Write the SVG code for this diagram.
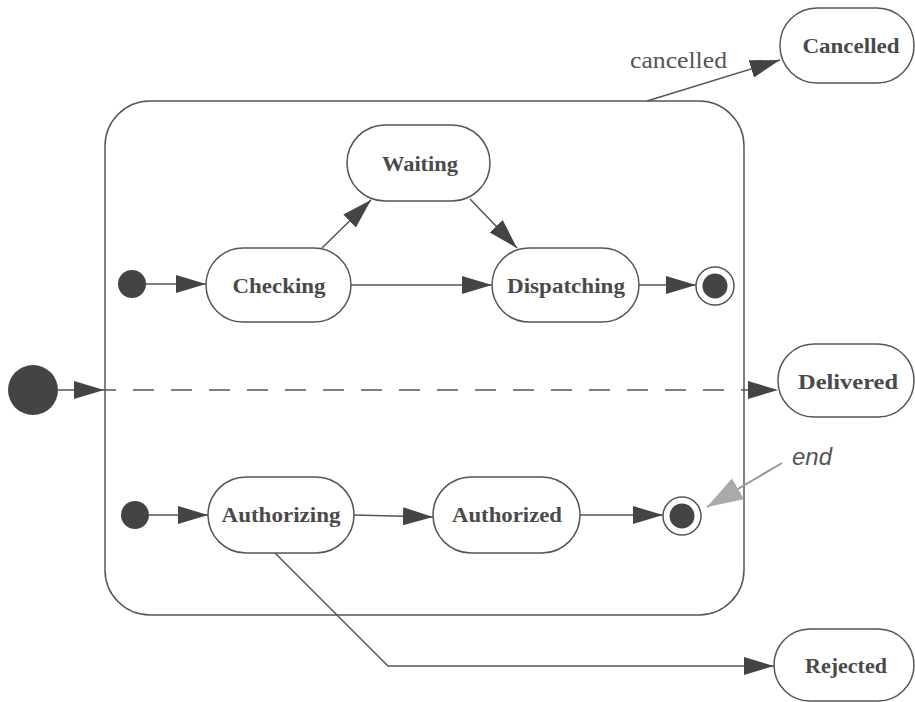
<svg xmlns="http://www.w3.org/2000/svg" width="915" height="702" viewBox="0 0 915 702">
<defs>
<style>
.st{fill:#fff;stroke:#555;stroke-width:1.5}
.lbl{font-family:"Liberation Serif","Times New Roman",serif;font-weight:bold;font-size:22px;fill:#4a4a4a;text-anchor:middle}
.ln{fill:none;stroke:#555;stroke-width:1.5}
.dot{fill:#444}
</style>
<marker id="ah" markerUnits="userSpaceOnUse" markerWidth="32" markerHeight="20" refX="30" refY="9" orient="auto">
<path d="M0,0 L30,9 L0,18 z" fill="#444"/>
</marker>
<marker id="ahg" markerUnits="userSpaceOnUse" markerWidth="38" markerHeight="26" refX="36" refY="12" orient="auto">
<path d="M0,0 L36,12 L0,24 z" fill="#aaa"/>
</marker>
</defs>
<rect width="915" height="702" fill="#fff"/>

<g id="composite">
<rect class="st" x="105" y="101" width="639" height="514" rx="45" ry="45"/>
</g>

<g id="connectors">
<line class="ln" x1="647" y1="101" x2="780" y2="60" marker-end="url(#ah)"/>
<line class="ln" x1="146" y1="284" x2="206" y2="284" marker-end="url(#ah)"/>
<line class="ln" x1="322" y1="248" x2="371" y2="200" marker-end="url(#ah)"/>
<line class="ln" x1="470" y1="199" x2="517" y2="248" marker-end="url(#ah)"/>
<line class="ln" x1="351" y1="285" x2="492" y2="285" marker-end="url(#ah)"/>
<line class="ln" x1="639" y1="285" x2="696" y2="285" marker-end="url(#ah)"/>
<line class="ln" x1="58" y1="390" x2="104" y2="390" marker-end="url(#ah)"/>
<line class="ln" x1="104" y1="390" x2="778" y2="390" stroke-dasharray="12 17 21 17 21 17 21 17 21 17 21 17 21 17 21 17 21 17 21 17 21 17 21 17 21 17 21 17 21 17 21 17 21 17 21 17" marker-end="url(#ah)"/>
<line class="ln" x1="149" y1="515" x2="208" y2="515" marker-end="url(#ah)"/>
<line class="ln" x1="354" y1="515" x2="433" y2="517" marker-end="url(#ah)"/>
<line class="ln" x1="580" y1="515" x2="663" y2="515" marker-end="url(#ah)"/>
<polyline class="ln" points="275,553 388,666 774,666" marker-end="url(#ah)"/>
<line x1="782" y1="463" x2="707" y2="507" stroke="#999" stroke-width="2" marker-end="url(#ahg)"/>
<text x="630" y="68" textLength="97" lengthAdjust="spacingAndGlyphs" style="font-family:'Liberation Serif','Times New Roman',serif;font-size:24px;fill:#555">cancelled</text>
<text x="792" y="465" textLength="40" lengthAdjust="spacingAndGlyphs" style="font-family:'Liberation Sans',Arial,sans-serif;font-style:italic;font-size:23px;fill:#555">end</text>
</g>

<g id="initial-main"><circle class="dot" cx="33" cy="390" r="25"/></g>
<g id="initial-top"><circle class="dot" cx="132" cy="284" r="14"/></g>
<g id="initial-bottom"><circle class="dot" cx="135" cy="515" r="14"/></g>

<g id="final-top">
<circle class="st" cx="715" cy="286" r="19"/>
<circle class="dot" cx="715" cy="286" r="12.5"/>
</g>
<g id="final-bottom">
<circle class="st" cx="682" cy="516" r="19"/>
<circle class="dot" cx="682" cy="516" r="12.5"/>
</g>

<g id="cancelled">
<rect class="st" x="780" y="8" width="134" height="75" rx="37" ry="37"/>
<text class="lbl" x="851" y="53" textLength="97" lengthAdjust="spacingAndGlyphs">Cancelled</text>
</g>
<g id="waiting">
<rect class="st" x="347" y="125" width="143" height="76" rx="38" ry="38"/>
<text class="lbl" x="420" y="171" textLength="76" lengthAdjust="spacingAndGlyphs">Waiting</text>
</g>
<g id="checking">
<rect class="st" x="206" y="248" width="145" height="74" rx="37" ry="37"/>
<text class="lbl" x="279" y="293" textLength="93" lengthAdjust="spacingAndGlyphs">Checking</text>
</g>
<g id="dispatching">
<rect class="st" x="492" y="248" width="147" height="74" rx="37" ry="37"/>
<text class="lbl" x="566" y="293" textLength="118" lengthAdjust="spacingAndGlyphs">Dispatching</text>
</g>
<g id="delivered">
<rect class="st" x="778" y="344" width="136" height="73" rx="36" ry="36"/>
<text class="lbl" x="848" y="389" textLength="100" lengthAdjust="spacingAndGlyphs">Delivered</text>
</g>
<g id="authorizing">
<rect class="st" x="208" y="477" width="146" height="76" rx="38" ry="38"/>
<text class="lbl" x="281" y="522" textLength="119" lengthAdjust="spacingAndGlyphs">Authorizing</text>
</g>
<g id="authorized">
<rect class="st" x="433" y="477" width="147" height="76" rx="38" ry="38"/>
<text class="lbl" x="507" y="522" textLength="110" lengthAdjust="spacingAndGlyphs">Authorized</text>
</g>
<g id="rejected">
<rect class="st" x="774" y="629" width="140" height="72" rx="36" ry="36"/>
<text class="lbl" x="846" y="673" textLength="82" lengthAdjust="spacingAndGlyphs">Rejected</text>
</g>
</svg>
